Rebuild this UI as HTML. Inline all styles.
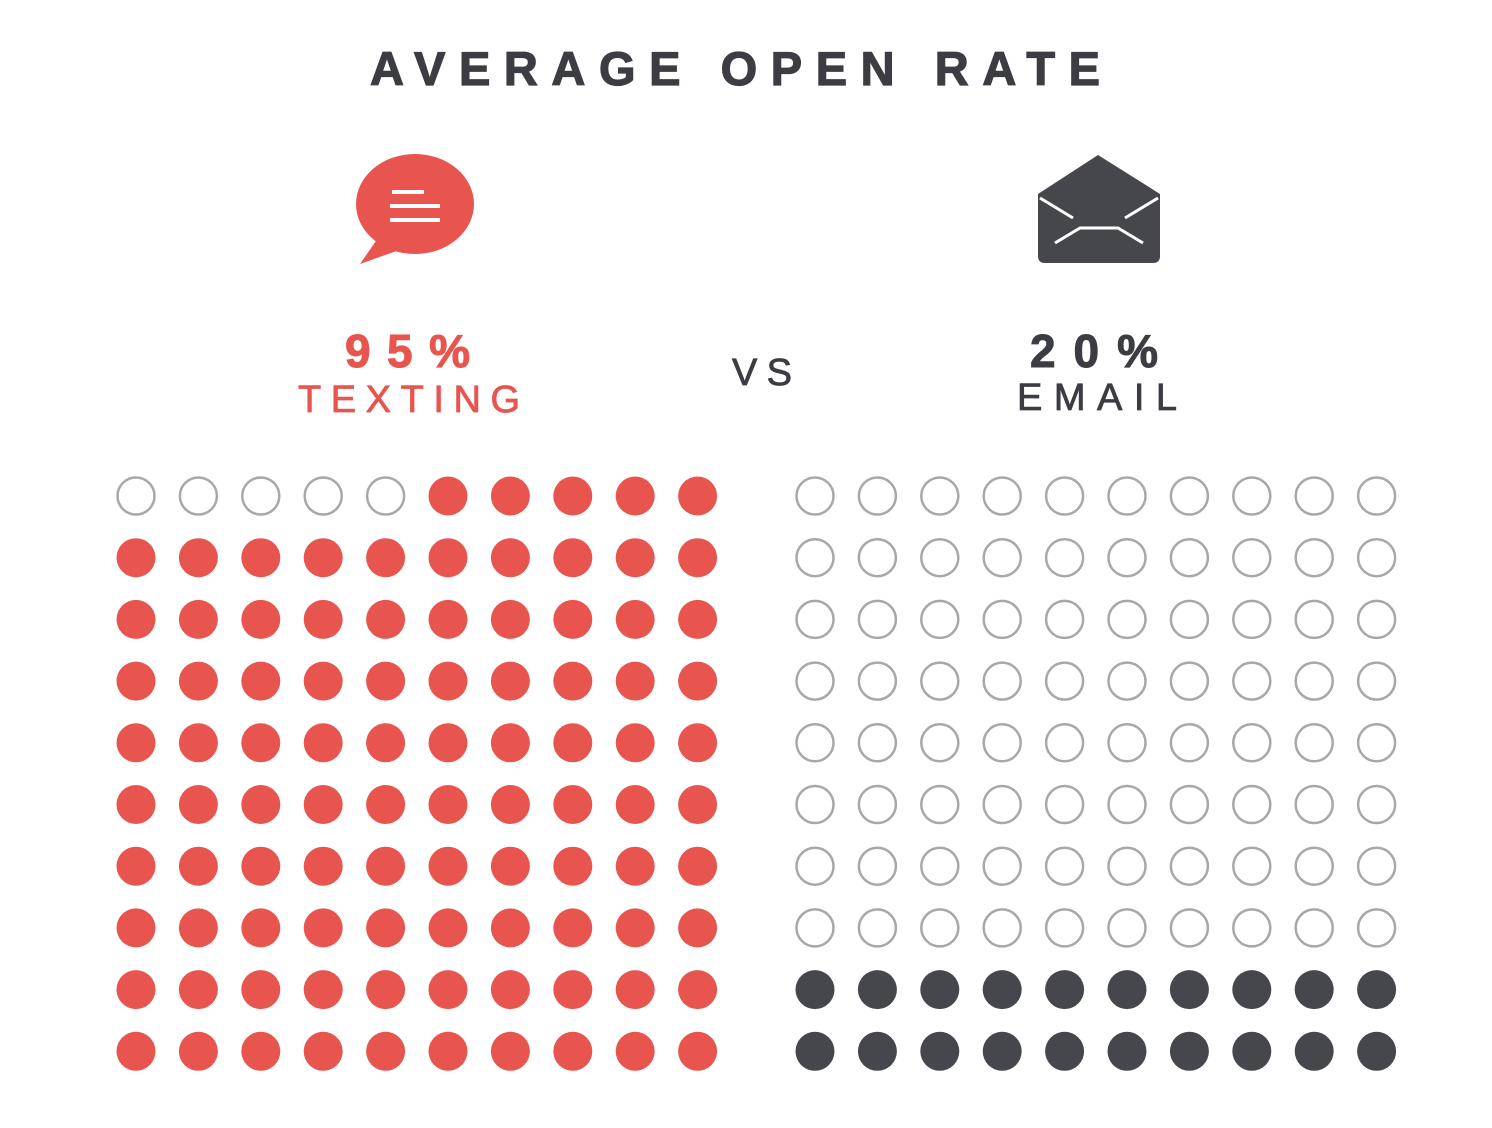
<!DOCTYPE html>
<html><head><meta charset="utf-8"><style>
html,body{margin:0;padding:0;background:#fff;}
svg{display:block;font-family:"Liberation Sans",sans-serif;font-weight:bold;}
</style></head><body>
<svg width="1492" height="1128" viewBox="0 0 1492 1128" xmlns="http://www.w3.org/2000/svg">
<text x="370" y="85" font-size="47" fill="#3c3d42" stroke="#3c3d42" stroke-width="1.2" textLength="730" lengthAdjust="spacing">AVERAGE OPEN RATE</text>
<ellipse cx="415" cy="204" rx="59" ry="50" fill="#e8554f"/>
<path d="M378 238 L360 264 L405 248 Z" fill="#e8554f"/>
<g stroke="#fff" stroke-width="4"><line x1="392" y1="192" x2="424" y2="192"/><line x1="390" y1="206" x2="440" y2="206"/><line x1="390" y1="220" x2="440" y2="220"/></g>
<path d="M1038 194 L1098 155 L1160 194 L1160 256 Q1160 263 1153 263 L1045 263 Q1038 263 1038 256 Z" fill="#46474c"/>
<g stroke="#fff" stroke-width="3" fill="none"><path d="M1040 198 L1073 218"/><path d="M1158 198 L1125 218"/><path d="M1055 243 L1080 228 L1118 228 L1143 243"/></g>
<text x="345" y="367" font-size="46" fill="#e8554f" stroke="#e8554f" stroke-width="1" textLength="125" lengthAdjust="spacing">95%</text>
<text x="298" y="412" font-size="38" fill="#e8554f" font-weight="normal" stroke="#e8554f" stroke-width="0.8" textLength="222" lengthAdjust="spacing">TEXTING</text>
<text x="732" y="385" font-size="38" fill="#3c3d42" font-weight="normal" stroke="#3c3d42" stroke-width="0.8" textLength="60" lengthAdjust="spacing">VS</text>
<text x="1030" y="367" font-size="46" fill="#3c3d42" stroke="#3c3d42" stroke-width="1" textLength="128" lengthAdjust="spacing">20%</text>
<text x="1017" y="410" font-size="38" fill="#3c3d42" font-weight="normal" stroke="#3c3d42" stroke-width="0.8" textLength="160" lengthAdjust="spacing">EMAIL</text>
<g id="dots"></g>
</svg>
<script>
var g=document.getElementById('dots'),s='';
for(var r=0;r<10;r++){for(var c=0;c<10;c++){
var y=496+r*61.7,xl=136+c*62.4,xr=815+c*62.4;
if(r==0&&c<5)s+='<circle cx="'+xl+'" cy="'+y+'" r="18.5" fill="none" stroke="#a8a8a8" stroke-width="2.5"/>';
else s+='<circle cx="'+xl+'" cy="'+y+'" r="19.5" fill="#e8554f"/>';
if(r<8)s+='<circle cx="'+xr+'" cy="'+y+'" r="18.5" fill="none" stroke="#a8a8a8" stroke-width="2.5"/>';
else s+='<circle cx="'+xr+'" cy="'+y+'" r="19.5" fill="#46474c"/>';
}}
g.innerHTML=s;
</script>
</body></html>
